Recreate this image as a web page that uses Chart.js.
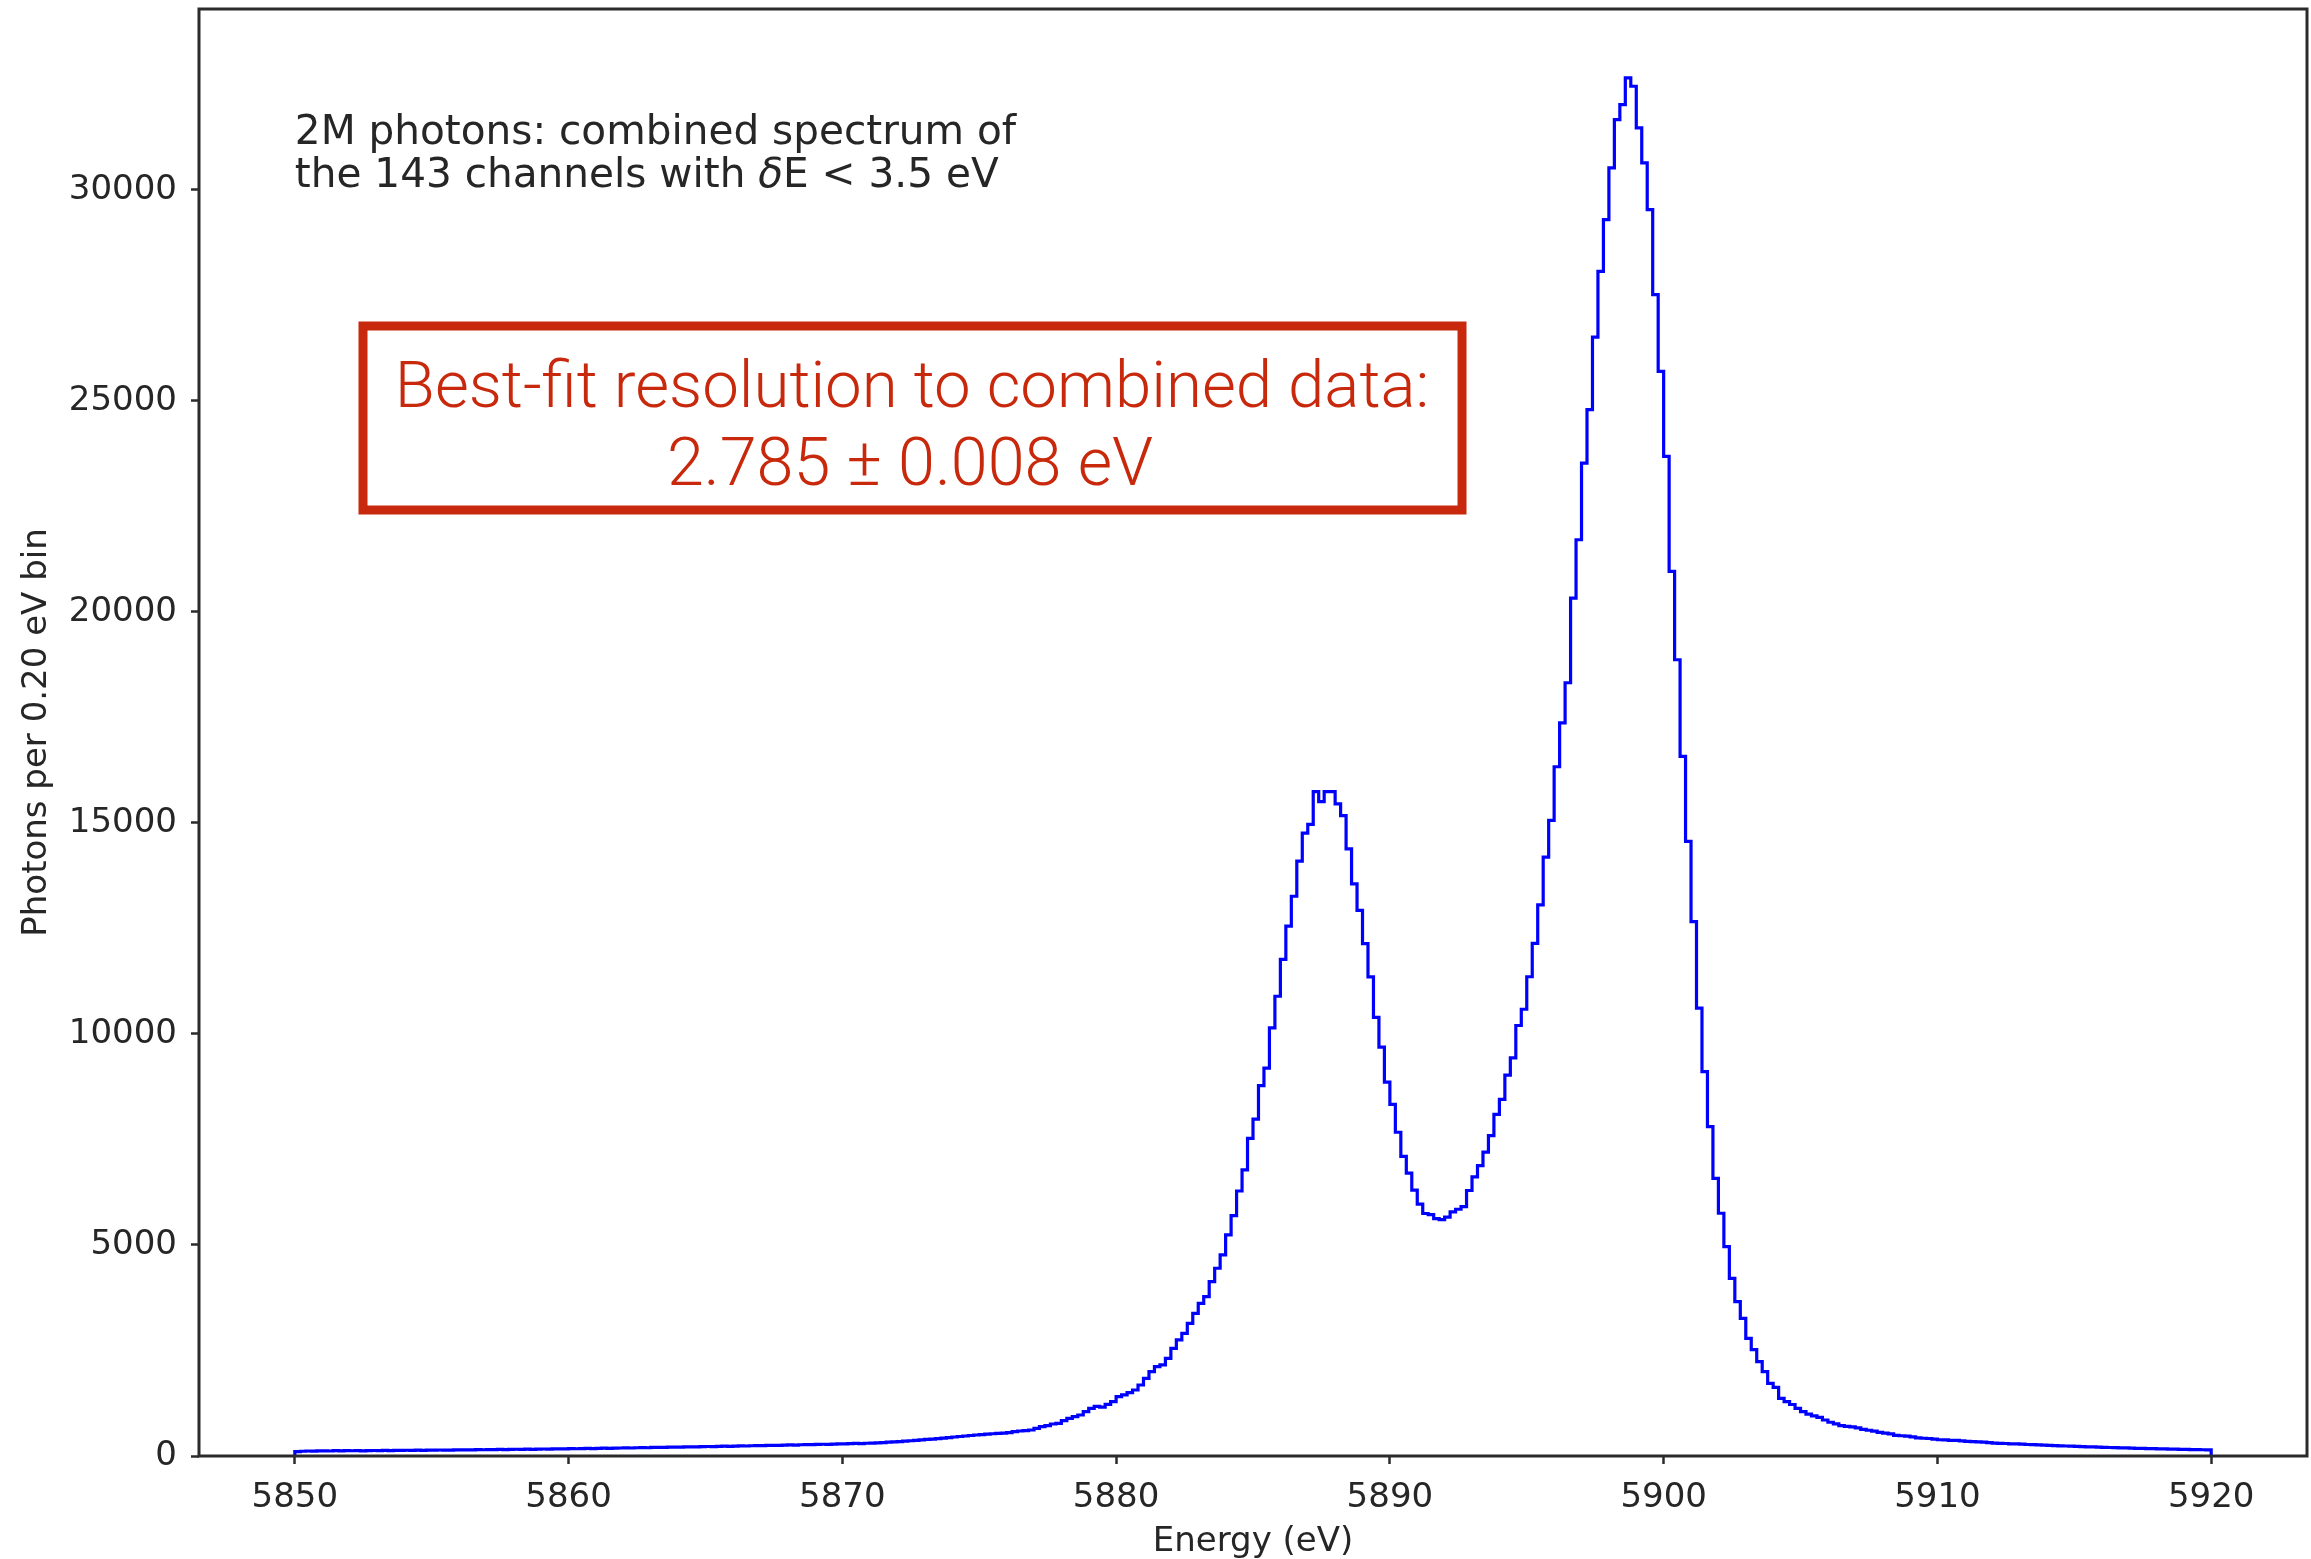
<!DOCTYPE html>
<html><head><meta charset="utf-8">
<script src="https://cdn.jsdelivr.net/npm/chart.js@4.4.1/dist/chart.umd.min.js"></script>
<style>html,body{margin:0;padding:0;background:#fff;overflow:hidden}#wrap{position:relative;width:2311px;height:1559px}</style>
</head><body><div id="wrap"><canvas id="c"></canvas></div>
<script>
// ---- data (0.20 eV bins starting at 5850 eV) ----
const binStart = 5850;
const binWidth = 0.2;
const counts = [
  105, 112, 118, 115, 120, 122, 118, 125, 121, 126,
  124, 128, 122, 127, 130, 129, 132, 128, 134, 131,
  136, 133, 138, 135, 140, 137, 142, 139, 141, 144,
  143, 147, 145, 150, 148, 152, 149, 155, 153, 157,
  160, 156, 162, 159, 164, 166, 163, 168, 171, 169,
  174, 172, 177, 180, 176, 182, 185, 183, 188, 190,
  192, 189, 196, 199, 195, 202, 205, 203, 208, 211,
  209, 215, 218, 216, 222, 225, 223, 229, 232, 230,
  236, 239, 237, 243, 246, 244, 250, 254, 252, 258,
  262, 260, 266, 270, 268, 274, 278, 276, 283, 287,
  285, 292, 297, 295, 302, 305, 312, 318, 327, 335,
  342, 352, 361, 372, 382, 393, 402, 414, 425, 437,
  450, 462, 474, 486, 497, 508, 517, 527, 534, 540,
  553, 577, 592, 600, 616, 655, 695, 719, 758, 774,
  837, 892, 932, 971, 1050, 1130, 1175, 1160, 1225, 1288,
  1406, 1446, 1501, 1564, 1682, 1840, 1998, 2117, 2157, 2315,
  2552, 2749, 2907, 3144, 3381, 3618, 3776, 4132, 4448, 4764,
  5240, 5697, 6279, 6778, 7526, 7983, 8773, 9188, 10144, 10893,
  11765, 12555, 13262, 14093, 14758, 14966, 15739, 15506, 15739, 15739,
  15450, 15174, 14384, 13553, 12929, 12139, 11350, 10394, 9687, 8856,
  8330, 7670, 7100, 6700, 6300, 5970, 5745, 5720, 5625, 5600,
  5660, 5785, 5846, 5907, 6290, 6615, 6880, 7200, 7590, 8095,
  8450, 9026, 9431, 10200, 10585, 11355, 12145, 13057, 14190, 15061,
  16330, 17370, 18320, 20327, 21709, 23526, 24790, 26510, 28069, 29293,
  30517, 31663, 32019, 32651, 32453, 31466, 30636, 29530, 27516, 25699,
  23684, 20959, 18865, 16574, 14560, 12663, 10610, 9109, 7805, 6580,
  5751, 4961, 4210, 3657, 3262, 2789, 2520, 2236, 1998, 1722,
  1627, 1367, 1290, 1220, 1130, 1050, 990, 950, 915, 853,
  800, 760, 720, 700, 690, 665, 630, 610, 590, 560,
  540, 525, 490, 480, 470, 455, 430, 420, 415, 400,
  385, 380, 372, 368, 358, 345, 342, 333, 330, 318,
  307, 300, 296, 288, 285, 279, 273, 268, 263, 257,
  251, 248, 240, 237, 232, 226, 223, 218, 214, 210,
  206, 201, 199, 193, 191, 186, 183, 180, 176, 173,
  170, 167, 163, 161, 158, 155, 153, 150, 148, 145
];
const xTickValues = [5850, 5860, 5870, 5880, 5890, 5900, 5910, 5920];
const yTickValues = [0, 5000, 10000, 15000, 20000, 25000, 30000];
const xTitle = 'Energy (eV)';
const yTitle = 'Photons per 0.20 eV bin';
const noteLine1 = '2M photons: combined spectrum of';
const noteLine2a = 'the 143 channels with ';
const noteLine2delta = 'δ';
const noteLine2b = 'E < 3.5 eV';
const fitLine1 = 'Best-fit resolution to combined data:';
const fitLine2 = '2.785 ± 0.008 eV';

// ---- build step-histogram points from the arrays ----
const nBins = counts.length;
const binEnd = binStart + nBins * binWidth;
const pts = [{x: binStart, y: 0}];
counts.forEach((v, i) => pts.push({x: +(binStart + i * binWidth).toFixed(2), y: v}));
pts.push({x: binEnd, y: counts[nBins - 1]});
pts.push({x: binEnd, y: 0});

const xMargin = (binEnd - binStart) * 0.05;
const yMax = Math.max(...counts) * 1.05;

const TXT = '#262626';
const RED = '#c8290c';
const tickFont = {family: '"DejaVu Sans"', size: 34};
const titleFont = {family: '"DejaVu Sans"', size: 34, lineHeight: 1.0};

const overlay = {
  id: 'overlay',
  afterDraw(chart) {
    const ctx = chart.ctx;
    const a = chart.chartArea;
    ctx.save();
    // axes frame (all four spines)
    ctx.strokeStyle = '#2b2b2b';
    ctx.lineWidth = 3;
    ctx.strokeRect(a.left, a.top, a.right - a.left, a.bottom - a.top);

    // note text (top-left)
    const nx = chart.scales.x.getPixelForValue(binStart);
    ctx.fillStyle = TXT;
    ctx.textAlign = 'left';
    ctx.textBaseline = 'alphabetic';
    ctx.font = '40.6px "DejaVu Sans"';
    ctx.fillText(noteLine1, nx, 144);
    let cx = nx;
    ctx.fillText(noteLine2a, cx, 187);
    cx += ctx.measureText(noteLine2a).width;
    ctx.font = 'italic 40.6px "DejaVu Sans"';
    ctx.fillText(noteLine2delta, cx, 187);
    cx += ctx.measureText(noteLine2delta).width;
    ctx.font = '40.6px "DejaVu Sans"';
    ctx.fillText(noteLine2b, cx, 187);

    // red result box
    ctx.strokeStyle = RED;
    ctx.lineWidth = 9;
    ctx.strokeRect(363, 326, 1099, 184);
    ctx.fillStyle = RED;
    ctx.textAlign = 'center';
    ctx.font = '300 65.4px Roboto, "Liberation Sans", sans-serif';
    ctx.fillText(fitLine1, 912, 407);
    ctx.font = '300 66.5px Roboto, "Liberation Sans", sans-serif';
    ctx.fillText(fitLine2, 910, 485);
    ctx.restore();
  }
};

new Chart(document.getElementById('c'), {
  type: 'line',
  data: {
    datasets: [{
      data: pts,
      stepped: 'before',
      borderColor: 'rgb(0,0,255)',
      borderWidth: 3.2,
      pointRadius: 0,
      fill: false,
      tension: 0
    }]
  },
  options: {
    responsive: true,
    maintainAspectRatio: false,
    animation: false,
    devicePixelRatio: 1,
    layout: {padding: {left: 0, right: 4, top: 9, bottom: 0}},
    plugins: {legend: {display: false}, tooltip: {enabled: false}},
    scales: {
      x: {
        type: 'linear',
        min: binStart - xMargin,
        max: binEnd + xMargin,
        afterBuildTicks: s => { s.ticks = xTickValues.map(v => ({value: v})); },
        afterFit: s => { s.height = 103; s.paddingLeft = 0; s.paddingRight = 0; s.paddingTop = 0; s.paddingBottom = 0; },
        border: {display: false},
        grid: {drawOnChartArea: false, drawTicks: true, tickLength: 8, tickWidth: 2.5, tickColor: '#2b2b2b'},
        ticks: {font: tickFont, color: TXT, padding: 14, maxRotation: 0, autoSkip: false, callback: v => String(v)},
        title: {display: true, text: xTitle, font: titleFont, color: TXT, padding: {top: 0, bottom: 0}}
      },
      y: {
        type: 'linear',
        min: 0,
        max: yMax,
        afterBuildTicks: s => { s.ticks = yTickValues.map(v => ({value: v})); },
        afterFit: s => { s.width = 199; s.paddingTop = 0; s.paddingBottom = 0; s.paddingLeft = 0; s.paddingRight = 0; },
        border: {display: false},
        grid: {drawOnChartArea: false, drawTicks: true, tickLength: 8, tickWidth: 2.5, tickColor: '#2b2b2b'},
        ticks: {font: tickFont, color: TXT, padding: 14, autoSkip: false, callback: v => String(v)},
        title: {display: true, text: yTitle, font: titleFont, color: TXT, padding: {top: 20, bottom: 0}}
      }
    }
  },
  plugins: [overlay]
});
</script>
</body></html>
